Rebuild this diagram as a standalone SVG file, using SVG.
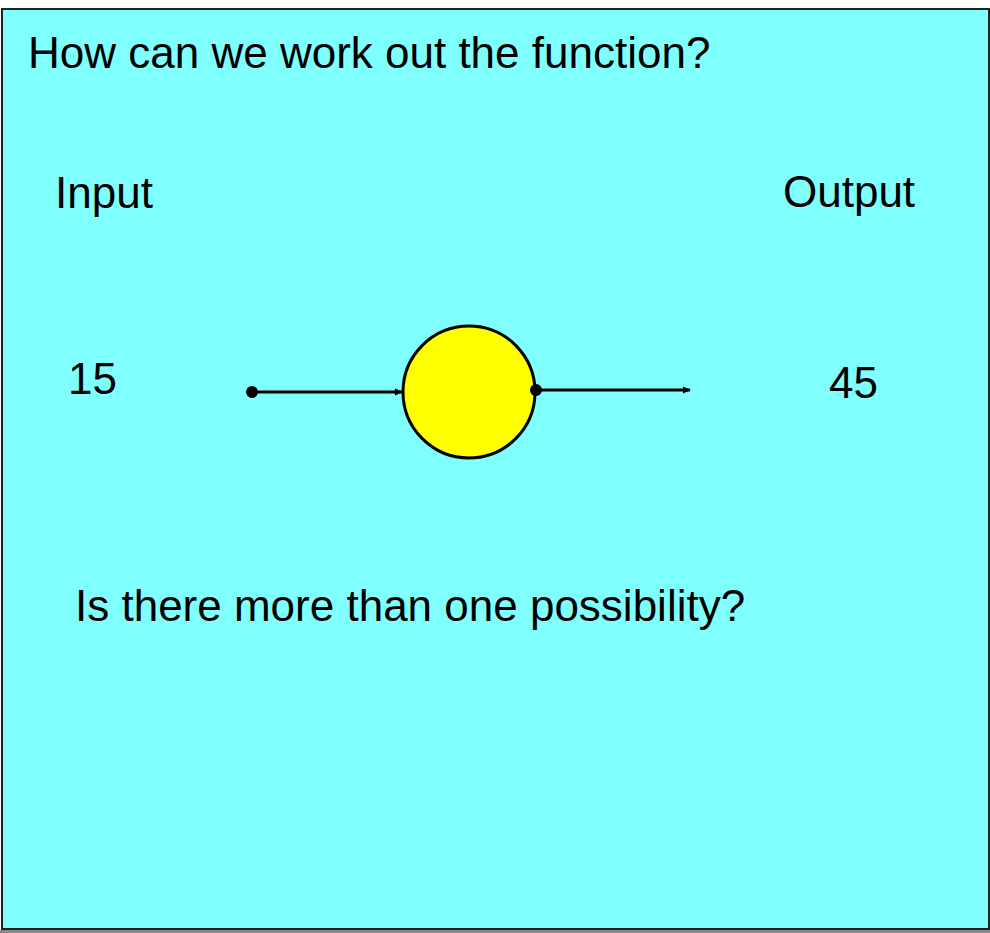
<svg xmlns="http://www.w3.org/2000/svg" width="990" height="933" viewBox="0 0 990 933">
<style>
text{font-family:"Liberation Sans",Arial,sans-serif;font-size:44px;fill:#000}
.ln{stroke:#000;stroke-width:3;fill:none}
</style>
<defs>
<marker id="ah" markerWidth="8" markerHeight="8" refX="7" refY="4" orient="auto" markerUnits="userSpaceOnUse"><path d="M0,0.5 L8,4 L0,7.5 Z" fill="#000"/></marker>
</defs>
<rect x="0" y="0" width="990" height="933" fill="#fff"/>
<rect x="2" y="9" width="987" height="920" fill="#80ffff" stroke="#222" stroke-width="2"/>
<line x1="0" y1="931.5" x2="990" y2="931.5" stroke="#888" stroke-width="3"/>
<g id="title"><text x="28" y="68">How can we work out the function?</text></g>
<g id="input-label"><text x="55" y="208">Input</text></g>
<g id="output-label"><text x="783" y="207">Output</text></g>
<g id="in-value"><text x="68" y="394">15</text></g>
<g id="out-value"><text x="829" y="398">45</text></g>
<g id="function"><circle cx="469" cy="392" r="66" fill="#ffff00" stroke="#000" stroke-width="3"/></g>
<g id="connectors">
<line class="ln" x1="252" y1="392" x2="402" y2="392" marker-end="url(#ah)"/>
<circle cx="252" cy="392" r="6" fill="#000"/>
<line class="ln" x1="536" y1="390" x2="690" y2="390" marker-end="url(#ah)"/>
<circle cx="536" cy="390" r="6" fill="#000"/>
</g>
<g id="question"><text x="75" y="621">Is there more than one possibility?</text></g>
</svg>
